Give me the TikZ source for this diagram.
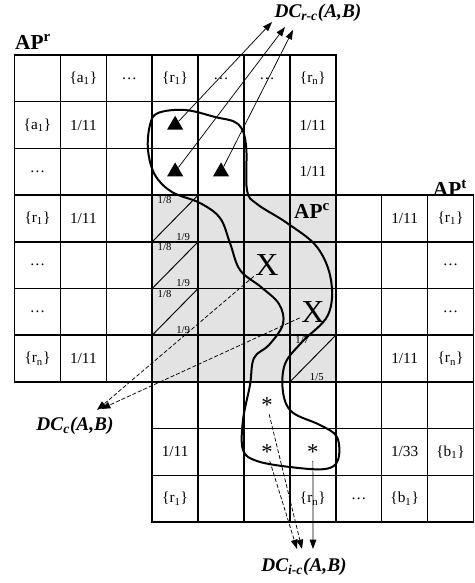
\documentclass[tikz,border=0pt]{standalone}
\usepackage{fontspec}
\setmainfont{Liberation Serif}
\usetikzlibrary{arrows.meta, positioning, shapes.geometric}

\begin{document}
\begin{tikzpicture}[
  x=0.75pt, y=-0.75pt,
  cell/.style={
    rectangle,
    draw=black,
    line width=1.1pt,
    minimum width=34.425pt,
    minimum height=35.025pt,
    inner sep=0pt
  },
  entry/.style={inner sep=0pt, font=\fontsize{11.5}{13}\selectfont},
  frac/.style={inner sep=1.5pt, font=\fontsize{8}{9}\selectfont},
  aplabel/.style={inner sep=0pt, font=\bfseries\fontsize{16}{18}\selectfont},
  dclabel/.style={inner sep=0pt, font=\bfseries\itshape\fontsize{14.5}{16}\selectfont},
  tri/.style={regular polygon, regular polygon sides=3, fill=black, inner sep=0pt, minimum size=14pt},
  cross/.style={inner sep=1pt, font=\fontsize{24}{26}\selectfont},
  star/.style={inner sep=1pt, font=\fontsize{17}{19}\selectfont},
  link/.style={-{Triangle[length=7pt,width=5pt]}, line width=0.55pt},
  dlink/.style={link, dash pattern=on 3pt off 1.5pt}
]
\useasboundingbox (0,0) rectangle (475,583);

% shared part of the two tables
\fill[gray!22] (152.2,195.1) rectangle (335.8,381.9);

% the two tables
\foreach \i in {0,...,6}
  \foreach \j in {0,...,6}
    \node[cell] (r-\i-\j) at ({14.5+45.9*\i+22.95}, {55+46.7*\j+23.35}) {};
\foreach \i in {3,...,9}
  \foreach \j in {3,...,9}
    \node[cell] (t-\i-\j) at ({14.5+45.9*\i+22.95}, {55+46.7*\j+23.35}) {};

\foreach \i/\j/\t in {1/0/{\{a\textsubscript{1}\}}, 2/0/{\dots}, 3/0/{\{r\textsubscript{1}\}},
    4/0/{\dots}, 5/0/{\dots}, 6/0/{\{r\textsubscript{n}\}},
    0/1/{\{a\textsubscript{1}\}}, 1/1/{1/11}, 6/1/{1/11},
    0/2/{\dots}, 6/2/{1/11},
    0/3/{\{r\textsubscript{1}\}}, 1/3/{1/11},
    0/4/{\dots}, 0/5/{\dots},
    0/6/{\{r\textsubscript{n}\}}, 1/6/{1/11}}
  \node[entry] (rl-\i-\j) at (r-\i-\j) {\t};

\foreach \i/\j/\t in {8/3/{1/11}, 9/3/{\{r\textsubscript{1}\}},
    9/4/{\dots}, 9/5/{\dots},
    8/6/{1/11}, 9/6/{\{r\textsubscript{n}\}},
    3/8/{1/11}, 8/8/{1/33}, 9/8/{\{b\textsubscript{1}\}},
    3/9/{\{r\textsubscript{1}\}}, 6/9/{\{r\textsubscript{n}\}}, 7/9/{\dots}, 8/9/{\{b\textsubscript{1}\}}}
  \node[entry] (tl-\i-\j) at (t-\i-\j) {\t};

% split cells
\foreach \j in {3,4,5} {
  \draw[line width=0.7pt] (r-3-\j.south west) -- (r-3-\j.north east);
  \node[frac, anchor=north west] (e8-\j) at ([xshift=3pt]r-3-\j.north west) {1/8};
  \node[frac, anchor=south east] (e9-\j) at ([xshift=-5pt]r-3-\j.south east) {1/9};
}
\draw[line width=0.7pt] (r-6-6.south west) -- (r-6-6.north east);
\node[frac, anchor=north west] (e7) at ([xshift=3pt]r-6-6.north west) {1/7};
\node[frac, anchor=south east] (e5) at ([xshift=-8pt]r-6-6.south east) {1/5};

% table names
\node[aplabel] (apr) at (33,42) {AP\textsuperscript{r}};
\node[aplabel] (apt) at (450,188) {AP\textsuperscript{t}};
\node[aplabel] (apc) at (312,211) {AP\textsuperscript{c}};

% the enclosed region
\draw[line width=1.5pt] plot[smooth cycle, tension=0.6] coordinates {
  (158,113) (185,110) (215,117) (238,124) (246,145) (247,190) (257,204)
  (287,223) (317,247) (331,280) (328,315) (302,342) (285,364) (283,392)
  (292,412) (320,425) (337,437) (338,460) (325,469) (290,467) (257,461)
  (243,450) (243,420) (250,385) (254,358) (269,345) (283,324) (279,304)
  (261,287) (240,270) (230,243) (220,218) (200,203) (172,192) (155,175)
  (148,150) (150,125)};

% marks
\node[tri] (tri1) at (r-3-1) {};
\node[tri] (tri2) at (r-3-2) {};
\node[tri] (tri3) at (r-4-2) {};
\node[cross] (x1) at (r-5-4) {X};
\node[cross] (x2) at (r-6-5) {X};
\node[star] (st1) at (t-5-7) {*};
\node[star] (st2) at (t-5-8) {*};
\node[star] (st3) at (t-6-8) {*};

% results
\node[dclabel] (dcrc) at (318,13) {DC\textsubscript{r-c}(A,B)};
\node[dclabel] (dcc) at (75,426) {DC\textsubscript{c}(A,B)};
\node[dclabel] (dcic) at (304,567) {DC\textsubscript{i-c}(A,B)};
\coordinate (rc1) at (272,22);
\coordinate (rc2) at (285,27);
\coordinate (rc3) at (293,30);
\coordinate (c1) at (97,410);
\coordinate (c2) at (101,409);
\coordinate (ic1) at (302,549);
\coordinate (ic2) at (297,549);
\coordinate (ic3) at (313,549);

\draw[link] (tri1) -- (rc1);
\draw[link] (tri2) -- (rc2);
\draw[link] (tri3) -- (rc3);
\draw[dlink] (x1) -- (c1);
\draw[dlink] (x2) -- (c2);
\draw[dlink] (st1) -- (ic1);
\draw[dlink] (st2) -- (ic2);
\draw[link] (st3) -- (ic3);
\end{tikzpicture}
\end{document}
